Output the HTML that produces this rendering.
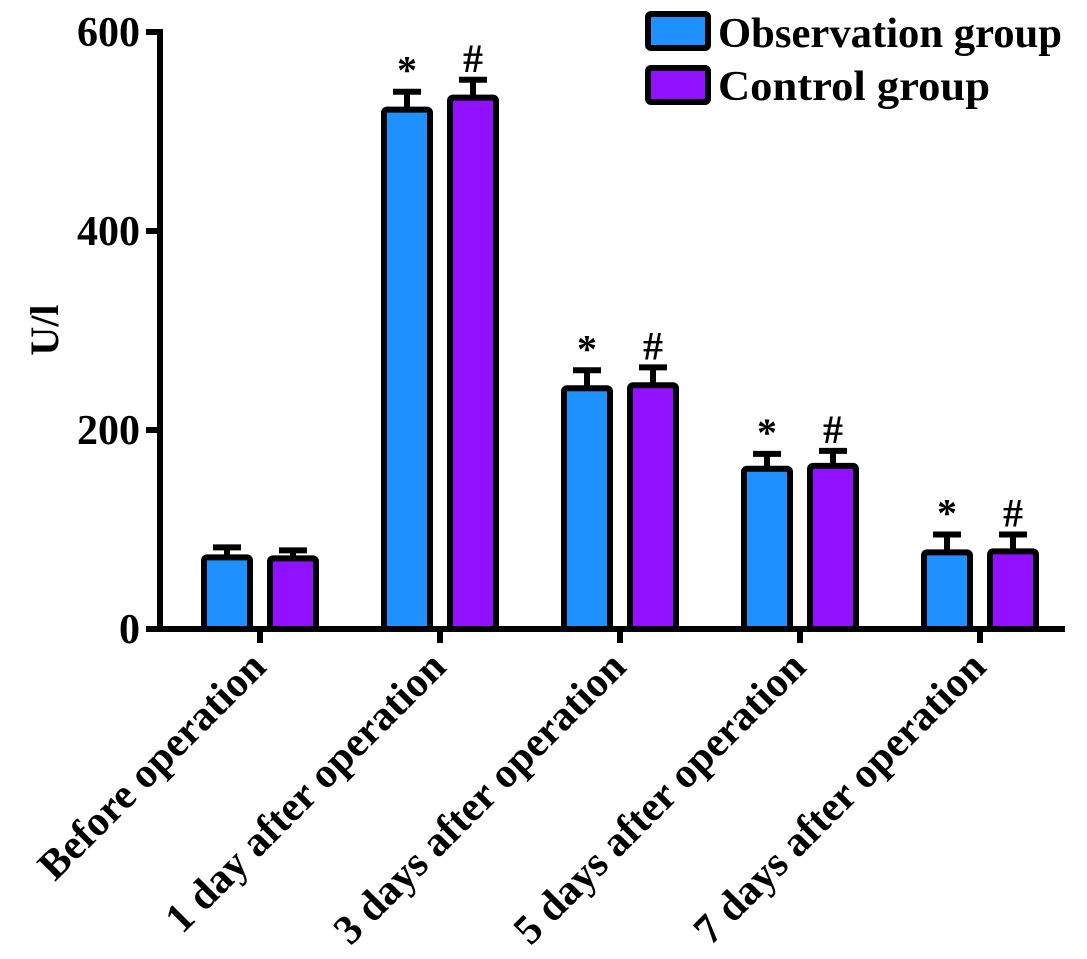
<!DOCTYPE html>
<html><head><meta charset="utf-8"><style>
html,body{margin:0;padding:0;background:#fff;}
svg{display:block;font-family:"Liberation Serif",serif;font-weight:bold;}
</style></head><body>
<svg id="chart" width="1087" height="959" viewBox="0 0 1087 959" xmlns="http://www.w3.org/2000/svg">
<g id="bars"></g>
<g id="axes"></g>
<g id="legend">
  <rect x="648" y="14" width="60" height="34" fill="#1e90ff" stroke="#000" stroke-width="6" rx="3"/>
  <text x="718" y="47" font-size="42" textLength="344" lengthAdjust="spacingAndGlyphs">Observation group</text>
  <rect x="648" y="68" width="60" height="34" fill="#9010ff" stroke="#000" stroke-width="6" rx="3"/>
  <text x="718" y="100" font-size="42" textLength="272" lengthAdjust="spacingAndGlyphs">Control group</text>
</g>
<text transform="translate(58,330) rotate(-90)" text-anchor="middle" font-size="40">U/l</text>
</svg>
<script>
const categories = ["Before operation","1 day after operation","3 days after operation","5 days after operation","7 days after operation"];
const observation = [72, 522, 242, 161, 77];
const control = [71, 534, 245, 164, 78];
const observationErr = [10, 18, 18, 15, 18];
const controlErr = [8, 18, 18, 15, 17];
const yTicks = [0, 200, 400, 600];
const seriesColors = ["#1e90ff", "#9010ff"];
const markers = [["", "*", "*", "*", "*"], ["", "#", "#", "#", "#"]];

const NS = "http://www.w3.org/2000/svg";
const y0 = 629, y600 = 32, xLeft = 160, xRight = 1065;
const yScale = v => y0 - (v / 600) * (y0 - y600);
const groupStart = 260, groupStep = 180;
const xCenter = i => groupStart + i * groupStep;
function mk(tag, attrs, parent){ const e=document.createElementNS(NS,tag); for(const k in attrs) e.setAttribute(k,attrs[k]); parent.appendChild(e); return e; }

const bars = document.getElementById('bars');
const axes = document.getElementById('axes');
const series = [observation, control];
const errs = [observationErr, controlErr];
const names = ["observation", "control"];
categories.forEach((c, i) => {
  series.forEach((s, j) => {
    const cx = xCenter(i) + (j === 0 ? -33 : 33);
    const top = yScale(s[i]);
    const etop = yScale(s[i] + errs[j][i]);
    const el = mk('line', {x1:cx, x2:cx, y1:top, y2:etop, stroke:'#000', 'stroke-width':6}, bars);
    
    
    const cap = mk('line', {x1:cx-14, x2:cx+14, y1:etop, y2:etop, stroke:'#000', 'stroke-width':6}, bars);
    
    
    const r = mk('rect', {x:cx-23, y:top, width:46, height:y0-top, fill:seriesColors[j], stroke:'#000', 'stroke-width':6, rx:3}, bars);
    
    
    if (markers[j][i]) {
      const t = mk('text', {x:cx, y:etop - 8, 'text-anchor':'middle', 'font-size':40}, bars);
      t.textContent = markers[j][i];
      
      
    }
  });
  const tk = mk('line', {x1:xCenter(i), x2:xCenter(i), y1:y0, y2:y0+14, stroke:'#000', 'stroke-width':6}, axes);
  
  
  const lbl = mk('text', {transform:'translate(' + (xCenter(i)+8) + ',' + (y0+40) + ') rotate(-45)', 'text-anchor':'end', 'font-size':42}, axes);
  lbl.textContent = c;
  
  
});
const ya = mk('line', {x1:xLeft, x2:xLeft, y1:y600-3, y2:y0+3, stroke:'#000', 'stroke-width':6}, axes);


const xa = mk('line', {x1:xLeft-14, x2:xRight, y1:y0, y2:y0, stroke:'#000', 'stroke-width':6}, axes);


yTicks.forEach(v => {
  const t = mk('line', {x1:xLeft-14, x2:xLeft, y1:yScale(v), y2:yScale(v), stroke:'#000', 'stroke-width':6}, axes);
  
  
  const l = mk('text', {x:xLeft-20, y:yScale(v)+14, 'text-anchor':'end', 'font-size':42}, axes);
  l.textContent = v;
  
  
});
</script>
</body></html>
